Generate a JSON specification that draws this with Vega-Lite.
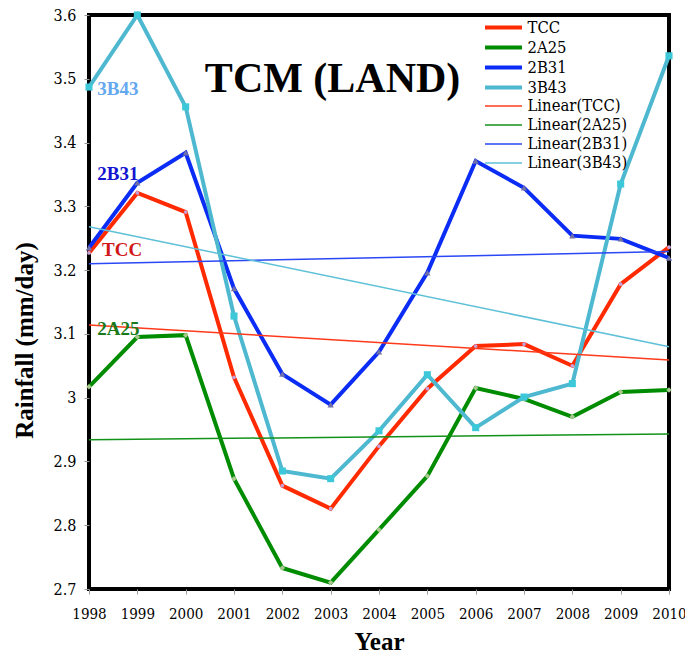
{
  "$schema": "https://vega.github.io/schema/vega-lite/v6.json",
  "width": 580,
  "height": 574,
  "autosize": "none",
  "padding": {"left": 89, "top": 15, "right": 16, "bottom": 66},
  "background": "white",
  "config": {
    "view": {"stroke": "#000000", "strokeWidth": 4},
    "font": "Liberation Serif"
  },
  "datasets": {
    "series": [
      {"year": 1998, "value": 3.227, "series": "TCC"},
      {"year": 1999, "value": 3.321, "series": "TCC"},
      {"year": 2000, "value": 3.291, "series": "TCC"},
      {"year": 2001, "value": 3.032, "series": "TCC"},
      {"year": 2002, "value": 2.862, "series": "TCC"},
      {"year": 2003, "value": 2.826, "series": "TCC"},
      {"year": 2004, "value": 2.924, "series": "TCC"},
      {"year": 2005, "value": 3.014, "series": "TCC"},
      {"year": 2006, "value": 3.081, "series": "TCC"},
      {"year": 2007, "value": 3.084, "series": "TCC"},
      {"year": 2008, "value": 3.050, "series": "TCC"},
      {"year": 2009, "value": 3.178, "series": "TCC"},
      {"year": 2010, "value": 3.236, "series": "TCC"},
      {"year": 1998, "value": 3.017, "series": "2A25"},
      {"year": 1999, "value": 3.095, "series": "2A25"},
      {"year": 2000, "value": 3.098, "series": "2A25"},
      {"year": 2001, "value": 2.873, "series": "2A25"},
      {"year": 2002, "value": 2.733, "series": "2A25"},
      {"year": 2003, "value": 2.710, "series": "2A25"},
      {"year": 2004, "value": 2.793, "series": "2A25"},
      {"year": 2005, "value": 2.877, "series": "2A25"},
      {"year": 2006, "value": 3.015, "series": "2A25"},
      {"year": 2007, "value": 2.998, "series": "2A25"},
      {"year": 2008, "value": 2.970, "series": "2A25"},
      {"year": 2009, "value": 3.009, "series": "2A25"},
      {"year": 2010, "value": 3.012, "series": "2A25"},
      {"year": 1998, "value": 3.235, "series": "2B31"},
      {"year": 1999, "value": 3.337, "series": "2B31"},
      {"year": 2000, "value": 3.384, "series": "2B31"},
      {"year": 2001, "value": 3.171, "series": "2B31"},
      {"year": 2002, "value": 3.037, "series": "2B31"},
      {"year": 2003, "value": 2.989, "series": "2B31"},
      {"year": 2004, "value": 3.072, "series": "2B31"},
      {"year": 2005, "value": 3.196, "series": "2B31"},
      {"year": 2006, "value": 3.371, "series": "2B31"},
      {"year": 2007, "value": 3.329, "series": "2B31"},
      {"year": 2008, "value": 3.254, "series": "2B31"},
      {"year": 2009, "value": 3.249, "series": "2B31"},
      {"year": 2010, "value": 3.219, "series": "2B31"},
      {"year": 1998, "value": 3.487, "series": "3B43"},
      {"year": 1999, "value": 3.600, "series": "3B43"},
      {"year": 2000, "value": 3.456, "series": "3B43"},
      {"year": 2001, "value": 3.128, "series": "3B43"},
      {"year": 2002, "value": 2.885, "series": "3B43"},
      {"year": 2003, "value": 2.873, "series": "3B43"},
      {"year": 2004, "value": 2.948, "series": "3B43"},
      {"year": 2005, "value": 3.036, "series": "3B43"},
      {"year": 2006, "value": 2.953, "series": "3B43"},
      {"year": 2007, "value": 3.001, "series": "3B43"},
      {"year": 2008, "value": 3.022, "series": "3B43"},
      {"year": 2009, "value": 3.335, "series": "3B43"},
      {"year": 2010, "value": 3.536, "series": "3B43"},
      {"year": 1998, "value": 3.114, "series": "Linear(TCC)"},
      {"year": 2010, "value": 3.059, "series": "Linear(TCC)"},
      {"year": 1998, "value": 2.934, "series": "Linear(2A25)"},
      {"year": 2010, "value": 2.943, "series": "Linear(2A25)"},
      {"year": 1998, "value": 3.210, "series": "Linear(2B31)"},
      {"year": 2010, "value": 3.229, "series": "Linear(2B31)"},
      {"year": 1998, "value": 3.268, "series": "Linear(3B43)"},
      {"year": 2010, "value": 3.080, "series": "Linear(3B43)"}
    ],
    "labels": [
      {"year": 1998.17, "value": 3.475, "text": "3B43", "series": "3B43"},
      {"year": 1998.17, "value": 3.341, "text": "2B31", "series": "2B31"},
      {"year": 1998.27, "value": 3.222, "text": "TCC", "series": "TCC"},
      {"year": 1998.17, "value": 3.098, "text": "2A25", "series": "2A25"}
    ],
    "title": [
      {"year": 2003.04, "value": 3.479, "text": "TCM (LAND)"}
    ]
  },
  "layer": [
    {
      "data": {"name": "series"},
      "mark": {"type": "line", "strokeJoin": "miter", "strokeCap": "butt"},
      "encoding": {
        "x": {"field": "year", "type": "quantitative", "scale": {"domain": [1998, 2010], "nice": false, "zero": false},
          "axis": {"values": [1998, 1999, 2000, 2001, 2002, 2003, 2004, 2005, 2006, 2007, 2008, 2009, 2010], "format": "d", "labelOverlap": false, "labelFlush": false, "labelBound": false, "grid": false, "domain": false, "tickColor": "#999999", "tickSize": 5, "labelColor": "#000000", "labelFont": "DejaVu Serif Condensed", "labelFontSize": 15, "labelPadding": 12, "title": "Year", "titleFont": "Liberation Serif", "titleFontWeight": "bold", "titleFontSize": 25, "titleColor": "#000000", "titleY": 52, "titleBaseline": "middle"}},
        "y": {"field": "value", "type": "quantitative", "scale": {"domain": [2.7, 3.6], "nice": false, "zero": false},
          "axis": {"values": [2.7, 2.8, 2.9, 3.0, 3.1, 3.2, 3.3, 3.4, 3.5, 3.6], "format": ".1~f", "labelOverlap": false, "labelFlush": false, "labelBound": false, "grid": false, "domain": false, "tickColor": "#999999", "tickSize": 5, "labelColor": "#000000", "labelFont": "DejaVu Serif Condensed", "labelFontSize": 16, "labelPadding": 8, "title": "Rainfall (mm/day)", "titleFont": "Liberation Serif", "titleFontWeight": "bold", "titleFontSize": 25, "titleColor": "#000000", "titleX": -65, "titleY": 325, "titleAngle": -90, "titleAlign": "center", "titleBaseline": "middle"}},
        "color": {"field": "series", "type": "nominal",
          "scale": {"domain": ["TCC", "2A25", "2B31", "3B43", "Linear(TCC)", "Linear(2A25)", "Linear(2B31)", "Linear(3B43)"],
                    "range": ["#FF2A00", "#008C00", "#0A2CF5", "#4DB8D0", "#FF3A1A", "#13921A", "#2A48F5", "#5EC0D8"]},
          "legend": {"title": null, "orient": "none", "legendX": 403, "legendY": 1, "symbolType": "M-2,0H2", "symbolSize": 342, "labelFontSize": 16.5, "labelFont": "DejaVu Serif Condensed", "labelColor": "#000000", "labelOffset": 12.5, "rowPadding": 0, "padding": 0}},
        "strokeWidth": {"field": "series", "type": "nominal",
          "scale": {"type": "ordinal", "domain": ["TCC", "2A25", "2B31", "3B43", "Linear(TCC)", "Linear(2A25)", "Linear(2B31)", "Linear(3B43)"],
                    "range": [4, 4, 4, 4, 1.5, 1.5, 1.5, 1.5]},
          "legend": {"title": null, "orient": "none", "legendX": 403, "legendY": 1, "symbolType": "M-2,0H2", "symbolSize": 342, "labelFontSize": 16.5, "labelFont": "DejaVu Serif Condensed", "labelColor": "#000000", "labelOffset": 12.5, "rowPadding": 0, "padding": 0}}
      }
    },
    {
      "data": {"name": "series"},
      "transform": [{"filter": {"field": "series", "oneOf": ["TCC", "2A25", "2B31", "3B43"]}}],
      "mark": {"type": "point", "filled": true, "opacity": 1},
      "encoding": {
        "x": {"field": "year", "type": "quantitative"},
        "y": {"field": "value", "type": "quantitative"},
        "fill": {"field": "series", "type": "nominal", "legend": null,
          "scale": {"domain": ["TCC", "2A25", "2B31", "3B43"], "range": ["#C8A0D8", "#A8C890", "#7070A8", "#3CC8D8"]}},
        "shape": {"field": "series", "type": "nominal", "legend": null,
          "scale": {"domain": ["TCC", "2A25", "2B31", "3B43"], "range": ["circle", "diamond", "triangle-up", "square"]}},
        "size": {"field": "series", "type": "nominal", "legend": null,
          "scale": {"type": "ordinal", "domain": ["TCC", "2A25", "2B31", "3B43"], "range": [14, 30, 40, 50]}}
      }
    },
    {
      "data": {"name": "labels"},
      "transform": [{"filter": {"field": "series", "equal": "3B43"}}],
      "mark": {"type": "text", "align": "left", "baseline": "alphabetic", "font": "Liberation Serif", "fontWeight": "bold", "fontSize": 19, "color": "#64A8F0"},
      "encoding": {"x": {"field": "year", "type": "quantitative"}, "y": {"field": "value", "type": "quantitative"}, "text": {"field": "text"}}
    },
    {
      "data": {"name": "labels"},
      "transform": [{"filter": {"field": "series", "equal": "2B31"}}],
      "mark": {"type": "text", "align": "left", "baseline": "alphabetic", "font": "Liberation Serif", "fontWeight": "bold", "fontSize": 19, "color": "#1414D0"},
      "encoding": {"x": {"field": "year", "type": "quantitative"}, "y": {"field": "value", "type": "quantitative"}, "text": {"field": "text"}}
    },
    {
      "data": {"name": "labels"},
      "transform": [{"filter": {"field": "series", "equal": "TCC"}}],
      "mark": {"type": "text", "align": "left", "baseline": "alphabetic", "font": "Liberation Serif", "fontWeight": "bold", "fontSize": 19, "color": "#D01818"},
      "encoding": {"x": {"field": "year", "type": "quantitative"}, "y": {"field": "value", "type": "quantitative"}, "text": {"field": "text"}}
    },
    {
      "data": {"name": "labels"},
      "transform": [{"filter": {"field": "series", "equal": "2A25"}}],
      "mark": {"type": "text", "align": "left", "baseline": "alphabetic", "font": "Liberation Serif", "fontWeight": "bold", "fontSize": 19, "color": "#1A7A1A"},
      "encoding": {"x": {"field": "year", "type": "quantitative"}, "y": {"field": "value", "type": "quantitative"}, "text": {"field": "text"}}
    },
    {
      "data": {"name": "title"},
      "mark": {"type": "text", "align": "center", "baseline": "alphabetic", "font": "Liberation Serif", "fontWeight": "bold", "fontSize": 42, "color": "#000000"},
      "encoding": {
        "x": {"field": "year", "type": "quantitative"},
        "y": {"field": "value", "type": "quantitative"},
        "text": {"field": "text"}
      }
    }
  ]
}
